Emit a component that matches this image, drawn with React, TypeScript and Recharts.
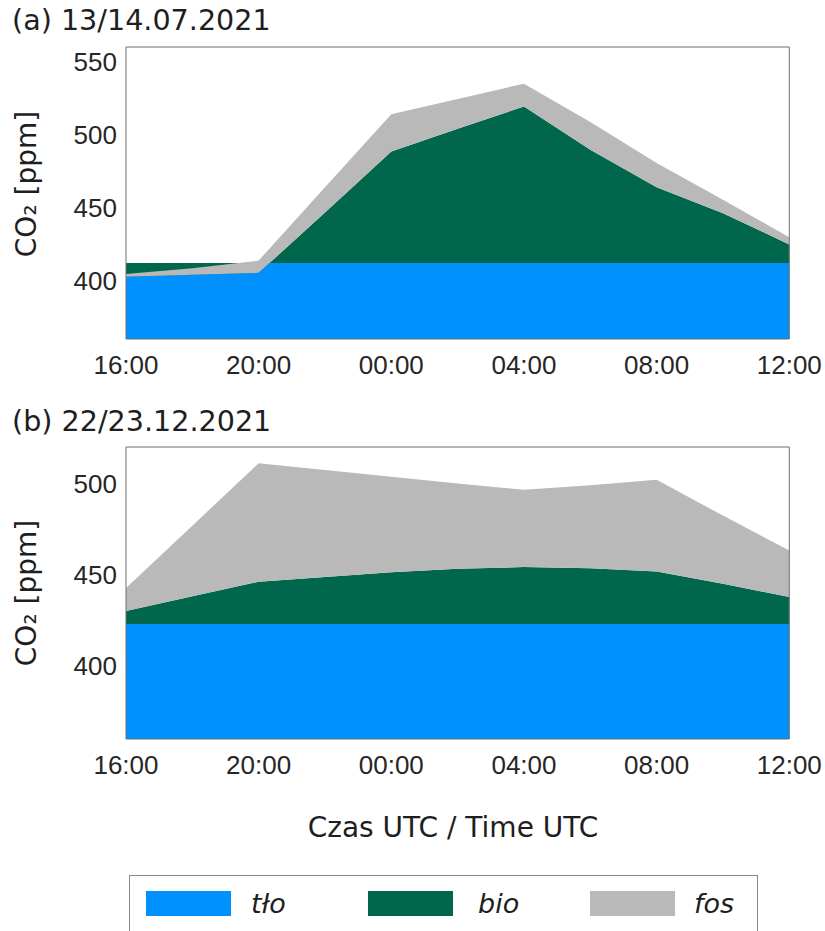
import React from "react";
import { AreaChart, Area, XAxis, YAxis } from "recharts";

// hours since 16:00 UTC
const hours = [0, 2, 4, 6, 8, 10, 12, 14, 16, 18, 20];
const hourTicks = [0, 4, 8, 12, 16, 20];
const hourLabels = ["16:00", "20:00", "00:00", "04:00", "08:00", "12:00"];

// (a) 13/14.07.2021 - contributions in ppm
const tloA = [412, 412, 412, 412, 412, 412, 412, 412, 412, 412, 412];
const bioA = [-9.3, -8.0, -6.7, 34.6, 76.5, 92.0, 107.3, 77.6, 52.0, 34.2, 12.7];
const fosA = [1.9, 4.5, 8.4, 17.4, 25.4, 20.4, 15.6, 19.0, 16.5, 9.1, 5.0];

// (b) 22/23.12.2021
const tloB = [423, 423, 423, 423, 423, 423, 423, 423, 423, 423, 423];
const bioB = [7.2, 15.2, 23.2, 25.8, 28.4, 30.3, 31.2, 30.5, 28.8, 22.1, 14.8];
const fosB = [12.5, 38.7, 64.9, 58.6, 52.3, 46.7, 42.4, 45.6, 50.2, 37.3, 25.5];

const yTicksA = [400, 450, 500, 550];
const yTicksB = [400, 450, 500];

const COLORS = { tlo: "#0091fe", bio: "#00674c", fos: "#b9b9b9" };
const FRAME = "#6e6e6e";
const TEXT = "#1e1e1e";

const legendItems = [
  { name: "tło", color: COLORS.tlo },
  { name: "bio", color: COLORS.bio },
  { name: "fos", color: COLORS.fos },
];

type Row = { h: number; tlo: number; bio: number; fos: number };

const makeRows = (tlo: number[], bio: number[], fos: number[]): Row[] =>
  hours.map((h, i) => ({ h, tlo: tlo[i], bio: bio[i], fos: fos[i] }));

const dataA = makeRows(tloA, bioA, fosA);
const dataB = makeRows(tloB, bioB, fosB);

const tickFont = { fontSize: 26, fill: "#262626", fontFamily: "Liberation Sans, Arial, sans-serif" };
const labelFont = "DejaVu Sans, Verdana, sans-serif";

// layer "fill" draws the areas, layer "axes" redraws the box and inward ticks on top
function Panel({
  data,
  domain,
  yTicks,
  layer,
}: {
  data: Row[];
  domain: [number, number];
  yTicks: number[];
  layer: "fill" | "axes";
}) {
  const show = layer === "fill";
  const line = layer === "axes" ? { stroke: FRAME } : false;
  return (
    <AreaChart width={825} height={400} data={data} margin={{ top: 46, right: 34.7, bottom: 21, left: 0 }}>
      <XAxis
        xAxisId="b"
        dataKey="h"
        type="number"
        domain={[0, 20]}
        ticks={hourTicks}
        interval={0}
        tickFormatter={(v) => hourLabels[hourTicks.indexOf(v)]}
        height={40}
        tickSize={-7}
        tickMargin={24}
        tick={show ? tickFont : false}
        axisLine={line}
        tickLine={line}
      />
      <XAxis
        xAxisId="t"
        orientation="top"
        dataKey="h"
        type="number"
        domain={[0, 20]}
        ticks={hourTicks}
        interval={0}
        height={1}
        tick={false}
        tickSize={-7}
        axisLine={line}
        tickLine={line}
      />
      <YAxis
        yAxisId="l"
        type="number"
        domain={domain}
        ticks={yTicks}
        interval={0}
        width={126}
        tickSize={-7}
        tickMargin={16}
        tick={show ? tickFont : false}
        axisLine={line}
        tickLine={line}
      />
      <YAxis
        yAxisId="r"
        orientation="right"
        type="number"
        domain={domain}
        ticks={yTicks}
        interval={0}
        width={1}
        tick={false}
        tickSize={-7}
        axisLine={line}
        tickLine={line}
      />
      <Area
        xAxisId="b"
        yAxisId="l"
        type="linear"
        dataKey="tlo"
        fill={show ? COLORS.tlo : "none"}
        fillOpacity={1}
        stroke="none"
        isAnimationActive={false}
      />
      <Area
        xAxisId="b"
        yAxisId="l"
        type="linear"
        dataKey={(d: Row) => [d.tlo, d.tlo + d.bio]}
        fill={show ? COLORS.bio : "none"}
        fillOpacity={1}
        stroke="none"
        isAnimationActive={false}
      />
      <Area
        xAxisId="b"
        yAxisId="l"
        type="linear"
        dataKey={(d: Row) => [d.tlo + d.bio, d.tlo + d.bio + d.fos]}
        fill={show ? COLORS.fos : "none"}
        fillOpacity={1}
        stroke="none"
        isAnimationActive={false}
      />
      {/* binds the top and right axes so they are drawn */}
      <Area
        xAxisId="t"
        yAxisId="r"
        type="linear"
        dataKey="tlo"
        fill="none"
        stroke="none"
        isAnimationActive={false}
      />
    </AreaChart>
  );
}

export default function App() {
  const swatchX = [146, 368, 590];
  const textX = [251, 478, 694];
  const abs = (top: number): React.CSSProperties => ({ position: "absolute", left: 0, top });
  return (
    <div style={{ position: "absolute", left: 0, top: 0, width: 825, height: 931, overflow: "hidden", background: "#fff" }}>
      <div style={abs(0)}>
        <Panel data={dataA} domain={[360, 560]} yTicks={yTicksA} layer="fill" />
      </div>
      <div style={abs(0)}>
        <Panel data={dataA} domain={[360, 560]} yTicks={yTicksA} layer="axes" />
      </div>
      <div style={abs(400)}>
        <Panel data={dataB} domain={[360, 520]} yTicks={yTicksB} layer="fill" />
      </div>
      <div style={abs(400)}>
        <Panel data={dataB} domain={[360, 520]} yTicks={yTicksB} layer="axes" />
      </div>
      <svg width={825} height={931} style={{ position: "absolute", left: 0, top: 0, pointerEvents: "none" }}>
        <g fontFamily={labelFont} fill={TEXT}>
          <text x={12} y={30} fontSize={28.6}>(a) 13/14.07.2021</text>
          <text x={12} y={430.5} fontSize={28.6}>(b) 22/23.12.2021</text>
          <text transform="translate(35.5,184) rotate(-90)" fontSize={28} textAnchor="middle">CO₂ [ppm]</text>
          <text transform="translate(35.5,593) rotate(-90)" fontSize={28} textAnchor="middle">CO₂ [ppm]</text>
          <text x={453} y={836.5} fontSize={28} textAnchor="middle">Czas UTC / Time UTC</text>
        </g>
        <rect x={129.5} y={875.5} width={628} height={80} fill="#fff" stroke="#8a8a8a" strokeWidth={1} />
        {legendItems.map((it, i) => (
          <g key={it.name}>
            <rect x={swatchX[i]} y={891} width={85} height={25} fill={it.color} />
            <text x={textX[i]} y={913} fontSize={27} fontStyle="italic" fontFamily={labelFont} fill={TEXT}>
              {it.name}
            </text>
          </g>
        ))}
      </svg>
    </div>
  );
}
